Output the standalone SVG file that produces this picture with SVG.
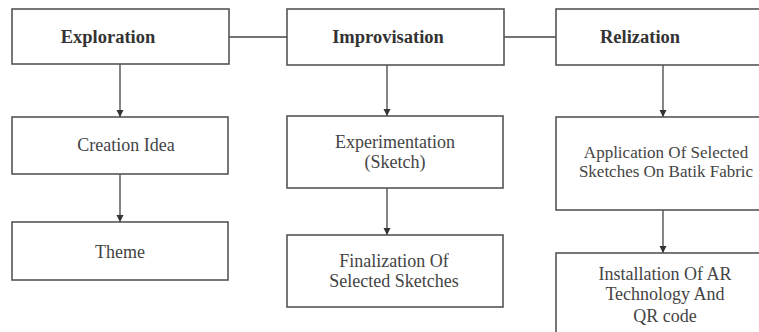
<svg xmlns="http://www.w3.org/2000/svg" width="759" height="332" viewBox="0 0 759 332">
<style>
.box{fill:#fff;stroke:#555;stroke-width:1.6}
.conn{stroke:#444;stroke-width:1.3;fill:none}
.h{font-family:"Liberation Serif",serif;font-weight:bold;font-size:18.5px;fill:#333;text-anchor:middle}
.t{font-family:"Liberation Serif",serif;font-size:18px;fill:#444;text-anchor:middle}
.s{font-size:17px}
</style>
<defs>
<marker id="ah" viewBox="0 0 10 10" refX="10" refY="5" markerWidth="7" markerHeight="8" markerUnits="userSpaceOnUse" orient="auto">
<path d="M0,0 L10,5 L0,10 Z" fill="#333"/>
</marker>
</defs>
<rect width="759" height="332" fill="#fff"/>
<g id="connectors">
<line class="conn" x1="229" y1="37" x2="287" y2="37"/>
<line class="conn" x1="504" y1="37" x2="556" y2="37"/>
<line class="conn" x1="120" y1="64" x2="120" y2="117" marker-end="url(#ah)"/>
<line class="conn" x1="120" y1="174" x2="120" y2="222" marker-end="url(#ah)"/>
<line class="conn" x1="387" y1="65" x2="387" y2="116" marker-end="url(#ah)"/>
<line class="conn" x1="387" y1="188" x2="387" y2="235" marker-end="url(#ah)"/>
<line class="conn" x1="663" y1="65" x2="663" y2="117" marker-end="url(#ah)"/>
<line class="conn" x1="663" y1="210" x2="663" y2="253" marker-end="url(#ah)"/>
</g>
<g id="exploration"><rect class="box" x="12" y="9" width="217" height="55"/><text class="h" x="108" y="43">Exploration</text></g>
<g id="improvisation"><rect class="box" x="287" y="9" width="217" height="56"/><text class="h" x="388" y="43">Improvisation</text></g>
<g id="relization"><rect class="box" x="556" y="9" width="220" height="56"/><text class="h" x="640" y="43">Relization</text></g>
<g id="creation-idea"><rect class="box" x="12" y="117" width="216" height="57"/><text class="t" x="126" y="151">Creation Idea</text></g>
<g id="theme"><rect class="box" x="12" y="222" width="216" height="58"/><text class="t" x="120" y="258">Theme</text></g>
<g id="experimentation"><rect class="box" x="287" y="116" width="216" height="72"/><text class="t" x="395" y="148">Experimentation</text><text class="t" x="395" y="168">(Sketch)</text></g>
<g id="finalization"><rect class="box" x="287" y="235" width="216" height="72"/><text class="t" x="394" y="267">Finalization Of</text><text class="t" x="394" y="287">Selected Sketches</text></g>
<g id="application"><rect class="box" x="556" y="117" width="220" height="93"/><text class="t s" x="666" y="158">Application Of Selected</text><text class="t s" x="666" y="177">Sketches On Batik Fabric</text></g>
<g id="installation"><rect class="box" x="556" y="253" width="220" height="100"/><text class="t" x="665" y="280">Installation Of AR</text><text class="t" x="665" y="300">Technology And</text><text class="t" x="665" y="322">QR code</text></g>
</svg>
